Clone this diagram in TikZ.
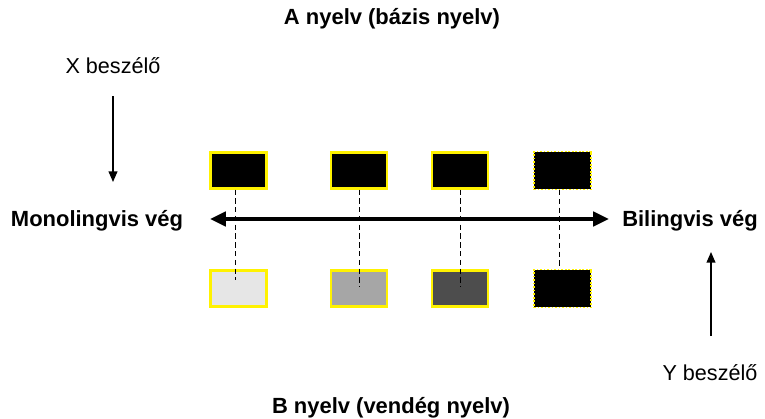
\documentclass[tikz,border=0pt]{standalone}
\usepackage{fontspec}
\setmainfont{Liberation Sans}
\usetikzlibrary{arrows.meta}
\begin{document}
\begin{tikzpicture}[x=0.02cm,y=-0.02cm,
  lbl/.style={font=\fontsize{12.3}{14}\selectfont, inner sep=0pt},
  blbl/.style={font=\bfseries\fontsize{12.5}{14}\selectfont, inner sep=0pt},
  ybox/.style={draw=yellow, line width=1.2pt, minimum width=1.12cm, minimum height=0.72cm, inner sep=0pt},
  dbox/.style={draw=yellow, dashed, dash pattern=on 1pt off 1pt, line width=0.6pt, fill=black, minimum width=1.14cm, minimum height=0.76cm, inner sep=0pt},
  conn/.style={densely dashed, line width=0.5pt}]
\useasboundingbox (0,0) rectangle (765,419);
\node[blbl] (A) at (392,19) {A nyelv (bázis nyelv)};
\node[blbl] (B) at (391,408) {B nyelv (vendég nyelv)};
\node[lbl] (X) at (113,66) {X beszélő};
\node[lbl] (Y) at (710,373) {Y beszélő};
\node[blbl] (M) at (97,221) {Monolingvis vég};
\node[blbl] (Bi) at (690,221) {Bilingvis vég};
\coordinate (xs) at (113,96);
\coordinate (xe) at (113,182);
\coordinate (ys) at (711,336);
\coordinate (ye) at (711,252);
\draw[line width=0.7pt,-{Triangle[length=6pt,width=5pt]}] (xs) -- (xe);
\draw[line width=0.7pt,-{Triangle[length=6pt,width=5pt]}] (ys) -- (ye);
\coordinate (al) at (210,219);
\coordinate (ar) at (609,219);
\node[ybox, fill=black] (t1) at (238.5,170.5) {};
\node[ybox, fill=black] (t2) at (359,170.5) {};
\node[ybox, fill=black] (t3) at (460,170.5) {};
\node[dbox] (t4) at (562.5,170.5) {};
\node[ybox, fill={rgb,255:red,230;green,230;blue,230}] (b1) at (238.5,288.5) {};
\node[ybox, fill={rgb,255:red,166;green,166;blue,166}] (b2) at (359,288.5) {};
\node[ybox, fill={rgb,255:red,77;green,77;blue,77}] (b3) at (460,288.5) {};
\node[dbox] (b4) at (562.5,288.5) {};
\draw[conn] (t1.south) ++(-3,0) coordinate (c1) -- (c1 |- 0,280);
\draw[conn] (t2.south) -- ++(0,97);
\draw[conn] (t3.south) -- ++(0,97);
\draw[conn] (t4.south) ++(-3,0) coordinate (c4) -- (c4 |- b4.north);
\draw[line width=2.6pt,{Triangle[length=9pt,width=8pt]}-{Triangle[length=9pt,width=8pt]}] (al) -- (ar);
\end{tikzpicture}
\end{document}
